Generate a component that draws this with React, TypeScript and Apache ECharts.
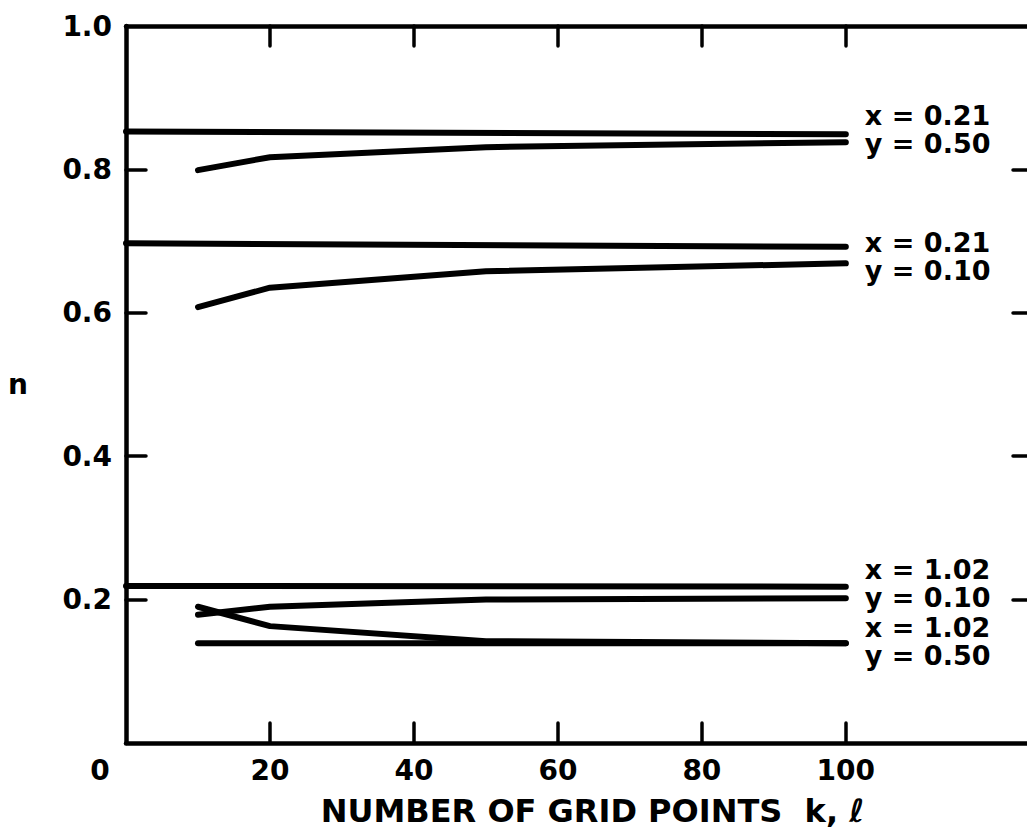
import React, { useEffect, useRef } from "react";
import * as echarts from "echarts";

const xTickValues = [20, 40, 60, 80, 100];
const xTickLabels = ["20", "40", "60", "80", "100"];
const yTickValues = [0.2, 0.4, 0.6, 0.8, 1.0];
const yTickLabels = ["0.2", "0.4", "0.6", "0.8", "1.0"];
const yInnerTicks = [0.2, 0.4, 0.6, 0.8];
const originLabel = "0";
const xTitle = "NUMBER OF GRID POINTS  k, \u2113";
const yTitle = "n";

const gridPointsFlat = [0, 100];
const gridPointsCurve = [10, 20, 50, 100];
const gridPointsLow = [10, 100];

const nFlatX021Y050 = [0.853, 0.849];
const nCurveX021Y050 = [0.799, 0.817, 0.831, 0.838];
const nFlatX021Y010 = [0.697, 0.692];
const nCurveX021Y010 = [0.608, 0.635, 0.658, 0.669];
const nFlatX102Y010 = [0.219, 0.218];
const nCurveX102Y010 = [0.179, 0.19, 0.2, 0.202];
const nCurveX102Y050 = [0.19, 0.163, 0.142, 0.139];
const nFlatX102Y050 = [0.139, 0.139];

const curveLabels = [
  "x = 0.21\ny = 0.50",
  "x = 0.21\ny = 0.10",
  "x = 1.02\ny = 0.10",
  "x = 1.02\ny = 0.50",
];
const curveLabelAnchors = [0.855, 0.679, 0.222, 0.142];

const FONT = "DejaVu Sans";

function zip(xs: number[], ys: number[]) {
  return xs.map((x, i) => [x, ys[i]]);
}

function lookup(values: number[], labels: string[], v: number) {
  const i = values.findIndex((t) => Math.abs(t - v) < 1e-6);
  return i >= 0 ? labels[i] : "";
}

export default function App() {
  const ref = useRef<HTMLDivElement>(null);
  useEffect(() => {
    if (!ref.current) return;
    const chart = echarts.init(ref.current, undefined, { renderer: "svg" });
    const axisLine = { show: true, onZero: false, lineStyle: { color: "#000", width: 4.5 } };
    const tickStyle = { color: "#000", width: 3.5, cap: "round" };
    const labelStyle = {
      color: "#000",
      fontFamily: FONT,
      fontWeight: "bold",
      fontSize: 28,
    };
    const mkSeries = (xs: number[], ys: number[]) => ({
      type: "line",
      data: zip(xs, ys),
      symbol: "none",
      silent: true,
      lineStyle: { color: "#000", width: 6, cap: "round", join: "round" },
    });
    chart.setOption({
      animation: false,
      grid: {
        left: 126,
        top: 26,
        width: 907,
        height: 717,
        outerBoundsMode: "none",
        containLabel: false,
      },
      xAxis: [
        {
          type: "value",
          position: "bottom",
          min: 0,
          max: 126,
          axisLine,
          splitLine: { show: false },
          axisTick: {
            show: true,
            inside: true,
            length: 20,
            lineStyle: tickStyle,
            customValues: xTickValues,
          },
          axisLabel: {
            ...labelStyle,
            margin: 13,
            customValues: xTickValues,
            formatter: (v: number) => lookup(xTickValues, xTickLabels, v),
          },
          name: xTitle,
          nameLocation: "middle",
          nameGap: 52,
          nameTextStyle: {
            color: "#000",
            fontFamily: FONT,
            fontWeight: "bold",
            fontSize: 32,
            padding: [0, 0, 0, 26],
          },
        },
        {
          type: "value",
          position: "top",
          min: 0,
          max: 126,
          axisLine,
          splitLine: { show: false },
          axisTick: {
            show: true,
            inside: true,
            length: 20,
            lineStyle: tickStyle,
            customValues: xTickValues,
          },
          axisLabel: { show: false },
        },
      ],
      yAxis: [
        {
          type: "value",
          position: "left",
          min: 0,
          max: 1,
          axisLine,
          splitLine: { show: false },
          axisTick: {
            show: true,
            inside: true,
            length: 20,
            lineStyle: tickStyle,
            customValues: yInnerTicks,
          },
          axisLabel: {
            ...labelStyle,
            margin: 14,
            customValues: yTickValues,
            formatter: (v: number) => lookup(yTickValues, yTickLabels, v),
          },
          name: yTitle,
          nameLocation: "middle",
          nameRotate: 0,
          nameGap: 98,
          nameTextStyle: {
            color: "#000",
            fontFamily: FONT,
            fontWeight: "bold",
            fontSize: 28,
          },
        },
        {
          type: "value",
          position: "right",
          min: 0,
          max: 1,
          axisLine,
          splitLine: { show: false },
          axisTick: {
            show: true,
            inside: true,
            length: 20,
            lineStyle: tickStyle,
            customValues: yInnerTicks,
          },
          axisLabel: { show: false },
        },
      ],
      series: [
        mkSeries(gridPointsFlat, nFlatX021Y050),
        mkSeries(gridPointsCurve, nCurveX021Y050),
        mkSeries(gridPointsFlat, nFlatX021Y010),
        mkSeries(gridPointsCurve, nCurveX021Y010),
        mkSeries(gridPointsFlat, nFlatX102Y010),
        mkSeries(gridPointsCurve, nCurveX102Y010),
        mkSeries(gridPointsCurve, nCurveX102Y050),
        mkSeries(gridPointsLow, nFlatX102Y050),
      ],
    });

    const graphics: any[] = curveLabels.map((t, i) => {
      const p = chart.convertToPixel({ gridIndex: 0 }, [100, curveLabelAnchors[i]]) as number[];
      return {
        type: "text",
        x: p[0] + 19,
        y: p[1],
        silent: true,
        style: {
          text: t,
          fill: "#000",
          font: `bold 27px "${FONT}"`,
          lineHeight: 28,
          align: "left",
          verticalAlign: "middle",
        },
      };
    });
    const o = chart.convertToPixel({ gridIndex: 0 }, [0, 0]) as number[];
    graphics.push({
      type: "text",
      x: o[0] - 26,
      y: o[1] + 27,
      silent: true,
      style: {
        text: originLabel,
        fill: "#000",
        font: `bold 28px "${FONT}"`,
        align: "center",
        verticalAlign: "middle",
      },
    });
    chart.setOption({ graphic: graphics });

    return () => chart.dispose();
  }, []);
  return (
    <div
      ref={ref}
      style={{ position: "fixed", left: 0, top: 0, width: 1027, height: 829, background: "#fff" }}
    />
  );
}
